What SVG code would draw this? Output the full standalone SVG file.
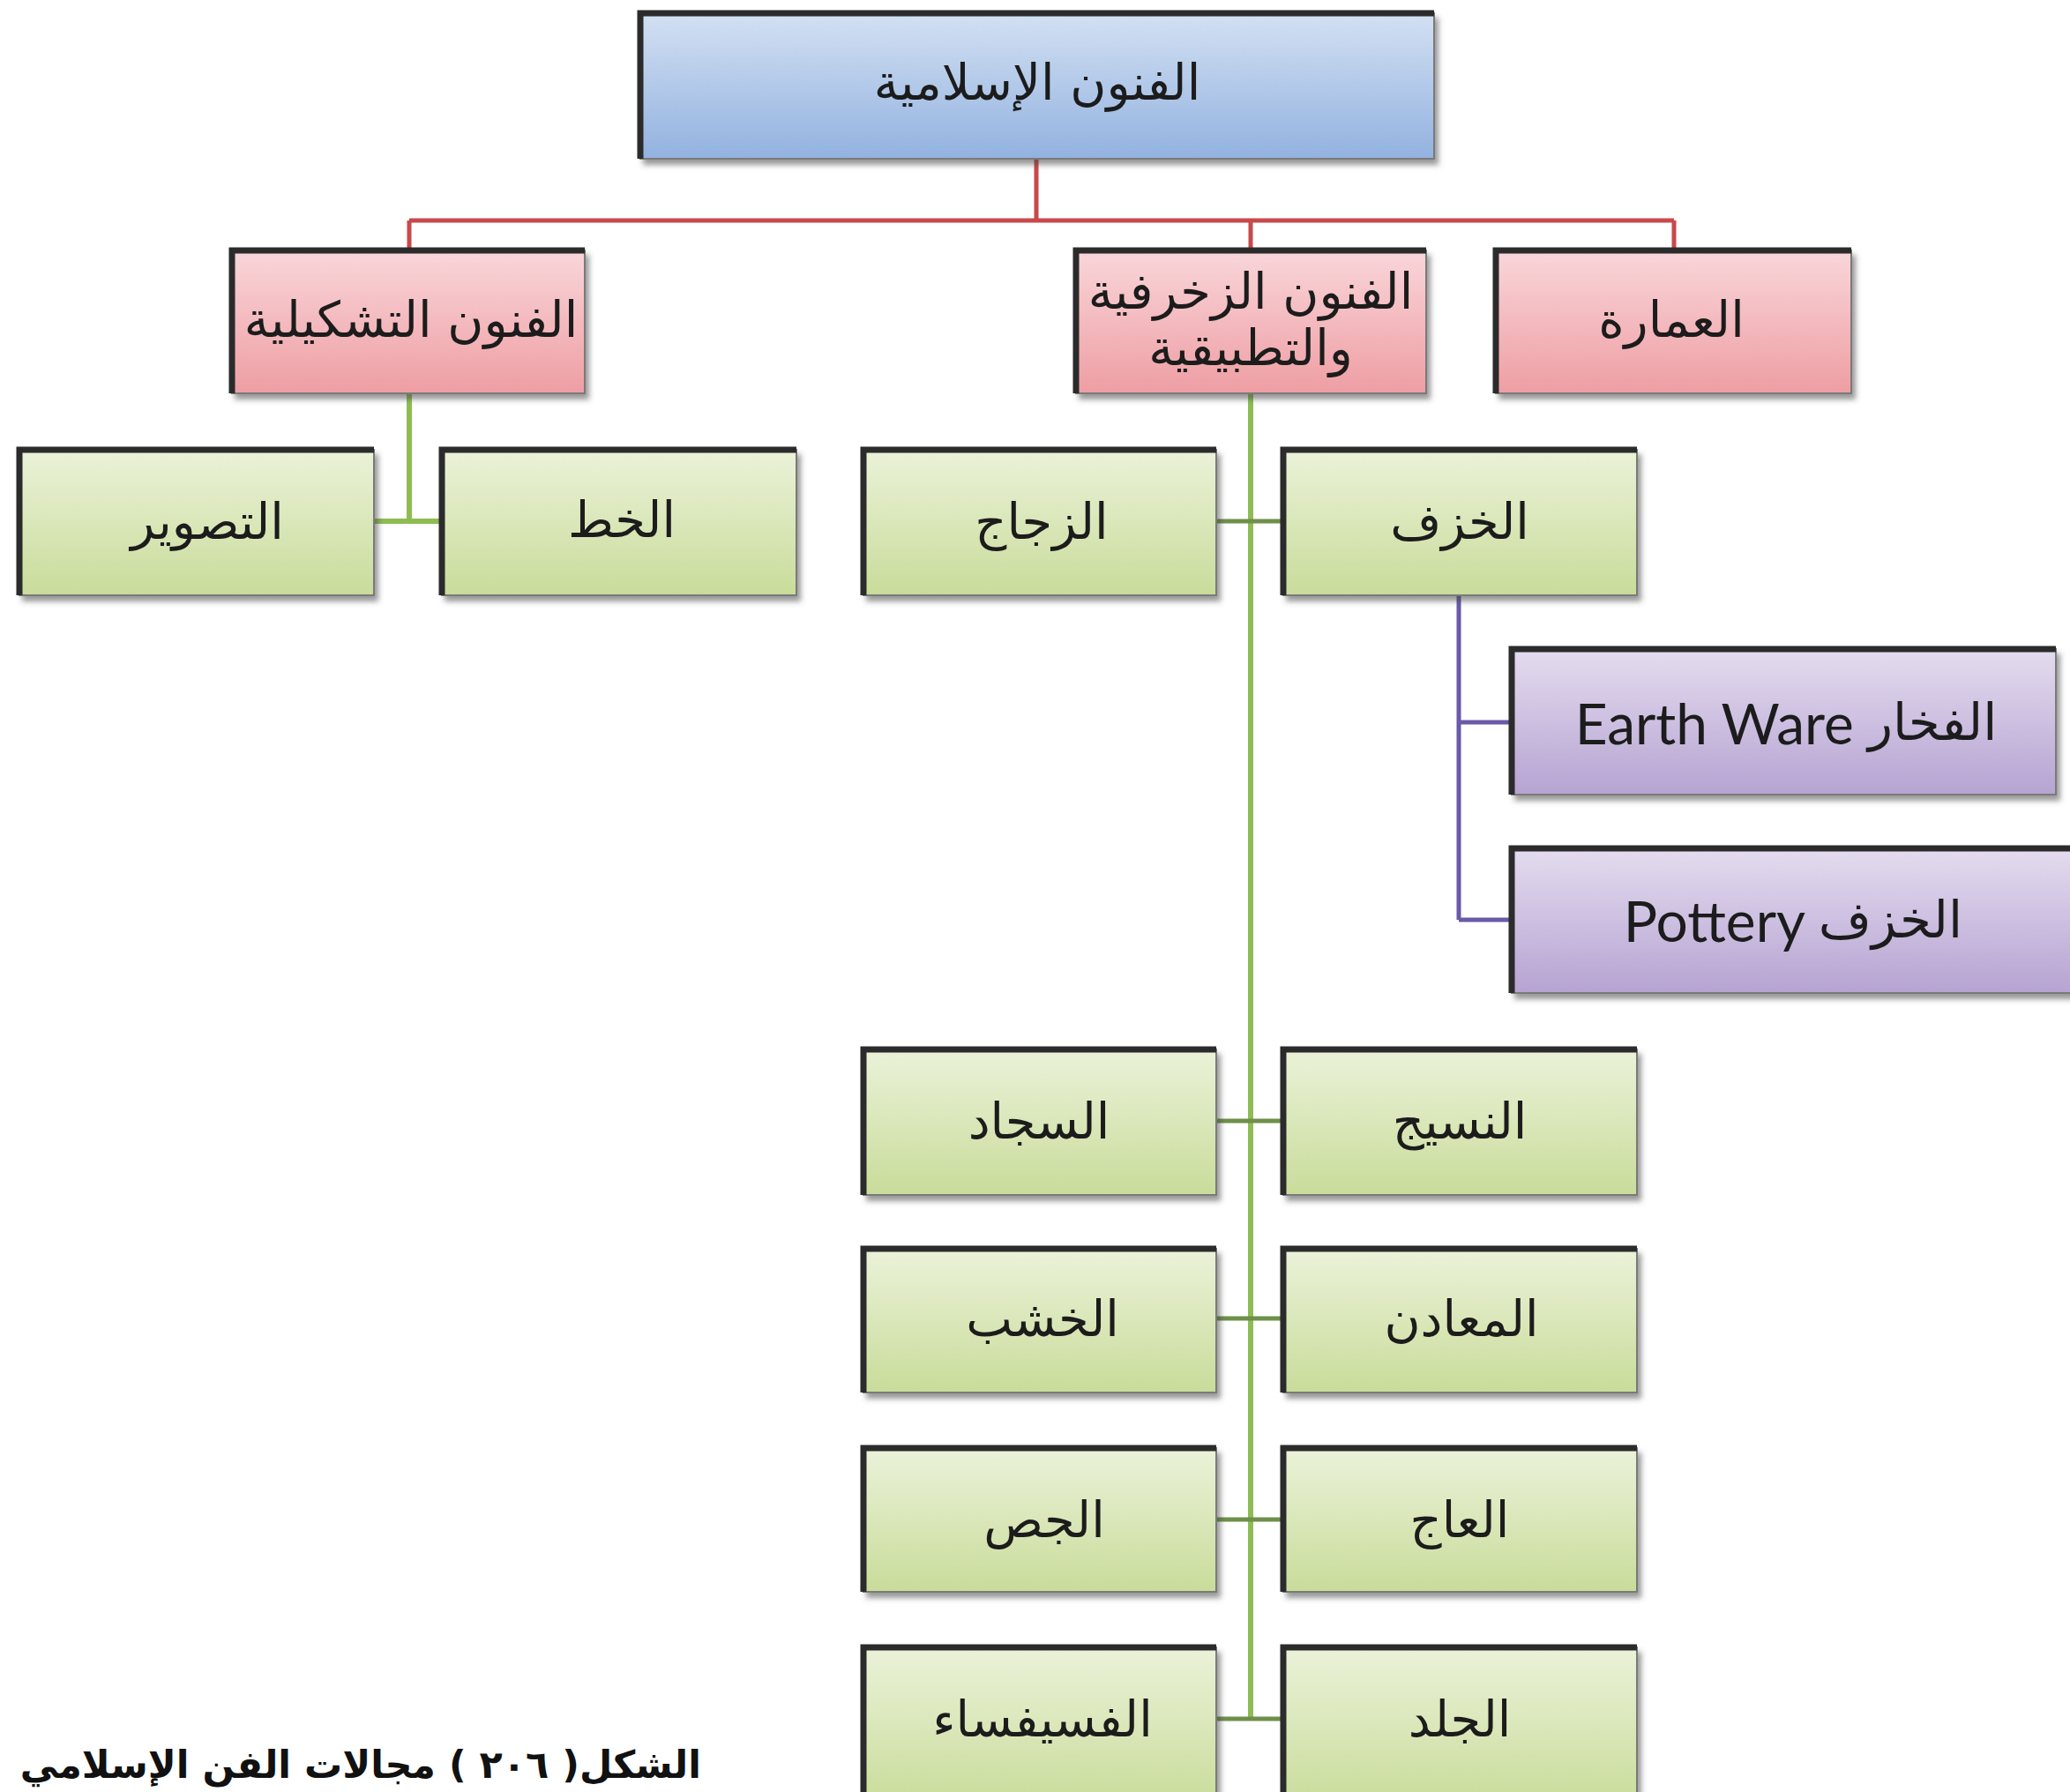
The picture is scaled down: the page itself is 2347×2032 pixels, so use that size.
<svg xmlns="http://www.w3.org/2000/svg" width="2347" height="2032" viewBox="0 0 2347 2032">
<defs>
<linearGradient id="gBlue" x1="0" y1="0" x2="0" y2="1"><stop offset="0" stop-color="#d3e0f2"/><stop offset="1" stop-color="#92b2e0"/></linearGradient>
<linearGradient id="gPink" x1="0" y1="0" x2="0" y2="1"><stop offset="0" stop-color="#f9d6da"/><stop offset="1" stop-color="#ee9ea3"/></linearGradient>
<linearGradient id="gGreen" x1="0" y1="0" x2="0" y2="1"><stop offset="0" stop-color="#ebf2d9"/><stop offset="1" stop-color="#c9dc9a"/></linearGradient>
<linearGradient id="gPurple" x1="0" y1="0" x2="0" y2="1"><stop offset="0" stop-color="#e4dcef"/><stop offset="1" stop-color="#b6a3d2"/></linearGradient>
<filter id="sh" x="-5%" y="-10%" width="115%" height="130%"><feDropShadow dx="4" dy="6" stdDeviation="3" flood-color="#444" flood-opacity="0.55"/></filter>
</defs>
<style>
.box{filter:url(#sh);stroke:#7a7a7a;stroke-width:2}
.blue{fill:url(#gBlue)}
.pink{fill:url(#gPink)}
.green{fill:url(#gGreen)}
.purple{fill:url(#gPurple)}
.edge{fill:none;stroke:#2b2b2b;stroke-width:7;stroke-linejoin:miter}
.t{font-family:"DejaVu Sans","Noto Sans",sans-serif;font-size:56px;fill:#1c1c1c;text-anchor:middle;dominant-baseline:central}
.te{font-family:Lato,"DejaVu Sans",sans-serif;font-size:64px;fill:#1c1c1c;text-anchor:middle;dominant-baseline:central}
.ta{font-family:"DejaVu Sans",sans-serif;font-size:58px}
.red{stroke:#c8494b;stroke-width:5;fill:none}
.grn{stroke:#8dbd52;stroke-width:6;fill:none}
.stub{stroke:#6f8f4a;stroke-width:5;fill:none}
.pur{stroke:#6a5aa8;stroke-width:5;fill:none}
.cap{font-family:"DejaVu Sans",sans-serif;font-weight:bold;font-size:43px;fill:#111;text-anchor:start}
</style>
<rect width="2347" height="2032" fill="#ffffff"/>
<g id="connectors">
<path class="red" d="M1175,180 V250 M464,250 H1898 M464,250 V284 M1418,250 V284 M1898,250 V284"/>
<path class="grn" d="M464,446 V591 M424,591 H501"/>
<path class="grn" d="M1418,446 V1949"/>
<path class="stub" d="M1379,591 H1455 M1379,1271 H1455 M1379,1495 H1455 M1379,1723 H1455 M1379,1949 H1455"/>
<path class="pur" d="M1654,675 V1043 M1654,819 H1714 M1654,1043 H1714"/>
</g>
<g id="n-root"><rect class="box blue" x="726" y="15" width="900" height="165"/><path class="edge" d="M726,180 V15 H1626"/><text class="t" x="1176" y="93" direction="rtl">الفنون الإسلامية</text></g>
<g id="n-tashkili"><rect class="box pink" x="263" y="284" width="400" height="162"/><path class="edge" d="M263,446 V284 H663"/><text class="t" x="466" y="362" direction="rtl">الفنون التشكيلية</text></g>
<g id="n-zukhrufi"><rect class="box pink" x="1220" y="284" width="397" height="162"/><path class="edge" d="M1220,446 V284 H1617"/><text class="t" x="1418" y="330" direction="rtl">الفنون الزخرفية</text><text class="t" x="1418" y="394" direction="rtl">والتطبيقية</text></g>
<g id="n-imara"><rect class="box pink" x="1696" y="284" width="403" height="162"/><path class="edge" d="M1696,446 V284 H2099"/><text class="t" x="1895" y="362" direction="rtl">العمارة</text></g>
<g id="n-taswir"><rect class="box green" x="22" y="510" width="402" height="165"/><path class="edge" d="M22,675 V510 H424"/><text class="t" x="235" y="591" direction="rtl">التصوير</text></g>
<g id="n-khat"><rect class="box green" x="501" y="510" width="402" height="165"/><path class="edge" d="M501,675 V510 H903"/><text class="t" x="705" y="589" direction="rtl">الخط</text></g>
<g id="n-zujaj"><rect class="box green" x="979" y="510" width="400" height="165"/><path class="edge" d="M979,675 V510 H1379"/><text class="t" x="1181" y="591" direction="rtl">الزجاج</text></g>
<g id="n-khazaf"><rect class="box green" x="1455" y="510" width="401" height="165"/><path class="edge" d="M1455,675 V510 H1856"/><text class="t" x="1655" y="591" direction="rtl">الخزف</text></g>
<g id="n-earthware"><rect class="box purple" x="1714" y="736" width="617" height="165"/><path class="edge" d="M1714,901 V736 H2331"/><text class="te" x="2025" y="819">Earth Ware <tspan class="ta">الفخار</tspan></text></g>
<g id="n-pottery"><rect class="box purple" x="1714" y="962" width="640" height="164"/><path class="edge" d="M1714,1126 V962 H2354"/><text class="te" x="2033" y="1043">Pottery <tspan class="ta">الخزف</tspan></text></g>
<g id="n-sijad"><rect class="box green" x="979" y="1190" width="400" height="165"/><path class="edge" d="M979,1355 V1190 H1379"/><text class="t" x="1178" y="1271" direction="rtl">السجاد</text></g>
<g id="n-nasij"><rect class="box green" x="1455" y="1190" width="401" height="165"/><path class="edge" d="M1455,1355 V1190 H1856"/><text class="t" x="1655" y="1271" direction="rtl">النسيج</text></g>
<g id="n-khashab"><rect class="box green" x="979" y="1416" width="400" height="163"/><path class="edge" d="M979,1579 V1416 H1379"/><text class="t" x="1182" y="1495" direction="rtl">الخشب</text></g>
<g id="n-maadin"><rect class="box green" x="1455" y="1416" width="401" height="163"/><path class="edge" d="M1455,1579 V1416 H1856"/><text class="t" x="1657" y="1495" direction="rtl">المعادن</text></g>
<g id="n-jis"><rect class="box green" x="979" y="1642" width="400" height="163"/><path class="edge" d="M979,1805 V1642 H1379"/><text class="t" x="1184" y="1723" direction="rtl">الجص</text></g>
<g id="n-aj"><rect class="box green" x="1455" y="1642" width="401" height="163"/><path class="edge" d="M1455,1805 V1642 H1856"/><text class="t" x="1655" y="1723" direction="rtl">العاج</text></g>
<g id="n-fusayfisa"><rect class="box green" x="979" y="1868" width="400" height="180"/><path class="edge" d="M979,2048 V1868 H1379"/><text class="t" x="1182" y="1949" direction="rtl">الفسيفساء</text></g>
<g id="n-jild"><rect class="box green" x="1455" y="1868" width="401" height="180"/><path class="edge" d="M1455,2048 V1868 H1856"/><text class="t" x="1655" y="1949" direction="rtl">الجلد</text></g>
<text class="cap" x="795" y="2016" direction="rtl">الشكل( ٢٠٦ ) مجالات الفن الإسلامي</text>
</svg>
